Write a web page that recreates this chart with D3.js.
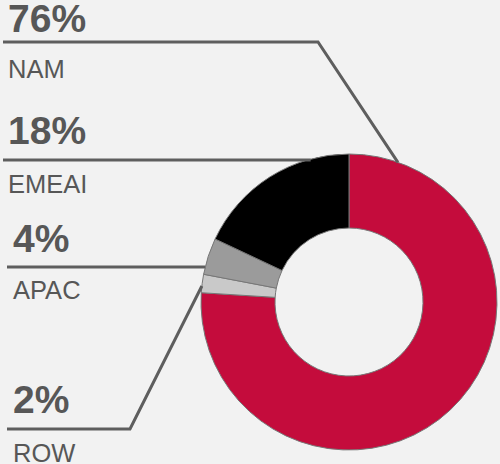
<!DOCTYPE html>
<html>
<head>
<meta charset="utf-8">
<script src="https://cdn.jsdelivr.net/npm/d3@7"></script>
<style>
  html, body { margin: 0; padding: 0; background: #f2f2f2; }
  svg { display: block; }
</style>
</head>
<body>
<svg id="chart" width="500" height="464"></svg>
<script>
// Regional revenue split, drawn clockwise from 12 o'clock
const regions = ["NAM", "ROW", "APAC", "EMEAI"];
const shares = [76, 2, 4, 18];
const colors = ["#c40c3c", "#c9c9c9", "#9b9b9b", "#000000"];

const width = 500, height = 464;
const cx = 349, cy = 302;
const outerR = 148, innerR = 74;

const svg = d3.select("#chart");
svg.append("rect").attr("width", width).attr("height", height).attr("fill", "#f2f2f2");

const pie = d3.pie().sort(null).value(d => d.value);
const arcs = pie(regions.map((r, i) => ({ region: r, value: shares[i], color: colors[i] })));
const arc = d3.arc().innerRadius(innerR).outerRadius(outerR);

const g = svg.append("g").attr("transform", `translate(${cx},${cy})`);
g.selectAll("path")
  .data(arcs)
  .join("path")
  .attr("d", arc)
  .attr("fill", d => d.data.color)
  .attr("stroke", "#777")
  .attr("stroke-width", 1);

// Label layout: text position, shelf line, and where the leader touches the ring
const labelLayout = {
  NAM:   { x: 8,  pctY: 32,  nameY: 78,  lineY: 42,  x0: 3, elbowX: 318, angle: 19.3 },
  EMEAI: { x: 8,  pctY: 144, nameY: 193, lineY: 160, x0: 3, elbowX: null, angle: 345 },
  APAC:  { x: 13, pctY: 252, nameY: 299, lineY: 267, x0: 7, elbowX: null, angle: 283.7 },
  ROW:   { x: 13, pctY: 413, nameY: 462, lineY: 429, x0: 7, elbowX: 130, angle: 276.2 }
};

const ink = "#575757";
const labels = svg.append("g");

arcs.forEach(a => {
  const L = labelLayout[a.data.region];
  const rad = L.angle * Math.PI / 180;
  const ex = cx + outerR * Math.sin(rad);
  const ey = cy - outerR * Math.cos(rad);
  const pts = L.elbowX === null
    ? [[L.x0, L.lineY], [ex, L.lineY]]
    : [[L.x0, L.lineY], [L.elbowX, L.lineY], [ex, ey]];

  labels.append("path")
    .attr("d", d3.line()(pts))
    .attr("fill", "none")
    .attr("stroke", "#5e5e5e")
    .attr("stroke-width", 3);

  labels.append("text")
    .attr("x", L.x).attr("y", L.pctY)
    .attr("font-family", "Liberation Sans, Arial, sans-serif")
    .attr("font-weight", "bold")
    .attr("font-size", 39)
    .attr("fill", ink)
    .text(`${a.data.value}%`);

  labels.append("text")
    .attr("x", L.x).attr("y", L.nameY)
    .attr("font-family", "Liberation Sans, Arial, sans-serif")
    .attr("font-size", 25.5)
    .attr("fill", ink)
    .text(a.data.region);
});
</script>
</body>
</html>
